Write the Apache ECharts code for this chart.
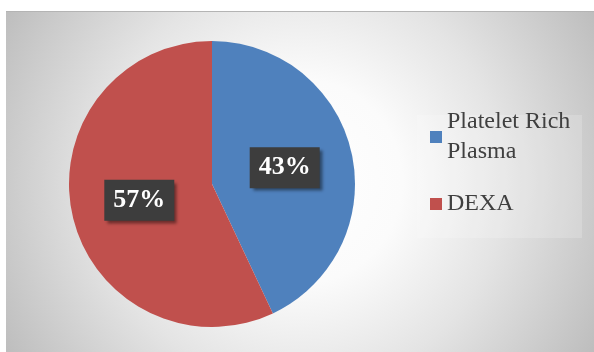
<!DOCTYPE html>
<html>
<head>
<meta charset="utf-8">
<script src="https://cdn.jsdelivr.net/npm/echarts@6/dist/echarts.min.js"></script>
<style>html,body{margin:0;padding:0;background:#fff}#c{width:594px;height:352px}</style>
</head>
<body>
<div id="c"></div>
<script>
var categories = ['Platelet Rich Plasma', 'DEXA'];
var values = [43, 57];
var legendLabels = ['Platelet Rich\nPlasma', 'DEXA'];
var colors = ['#4F81BD', '#C0504D'];

var serif = "'Liberation Serif','Times New Roman',Times,serif";
var chart = echarts.init(document.getElementById('c'), null, {renderer: 'canvas'});
chart.setOption({
  backgroundColor: '#ffffff',
  animation: false,
  graphic: [
    {type: 'rect', z: -10, shape: {x: 6, y: 11, width: 588, height: 341},
     style: {fill: {type: 'radial', x: 0.5, y: 0.5, r: 1, colorStops: [
       {offset: 0, color: '#ffffff'}, {offset: 0.3, color: '#fbfbfb'},
       {offset: 0.6, color: '#e4e4e4'}, {offset: 1, color: '#bdbdbd'}]}}},
    {type: 'line', z: -9, shape: {x1: 6, y1: 11.5, x2: 594, y2: 11.5}, style: {stroke: '#b4b4b4', lineWidth: 1}},
    {type: 'rect', z: -8, shape: {x: 417, y: 115, width: 165, height: 123},
     style: {fill: 'rgba(255,255,255,0.18)'}}
  ],
  legend: {
    orient: 'vertical',
    left: 430,
    top: 92,
    padding: 0,
    itemGap: 7,
    itemWidth: 12,
    itemHeight: 12,
    icon: 'rect',
    selectedMode: false,
    data: [
      {name: categories[0], textStyle: {padding: [30, 0, 0, 0]}},
      {name: categories[1]}
    ],
    formatter: function (n) { return legendLabels[categories.indexOf(n)]; },
    textStyle: {fontFamily: serif, fontSize: 24, color: '#404040', lineHeight: 30}
  },
  series: [{
    type: 'pie',
    center: [212, 184],
    radius: [0, 143],
    startAngle: 90,
    clockwise: true,
    data: categories.map(function (c, i) {
      return {name: c, value: values[i], itemStyle: {color: colors[i]}};
    }),
    label: {
      show: true,
      position: 'inside',
      formatter: '{d}%',
      fontFamily: serif,
      fontWeight: 'bold',
      fontSize: 26,
      lineHeight: 30,
      color: '#ffffff',
      backgroundColor: '#3d3d3d',
      padding: [6, 9, 5, 9],
      shadowColor: 'rgba(0,0,0,0.45)',
      shadowBlur: 3,
      shadowOffsetX: 3,
      shadowOffsetY: 3
    },
    labelLine: {show: false},
    emphasis: {disabled: true}
  }]
});
</script>
</body>
</html>
